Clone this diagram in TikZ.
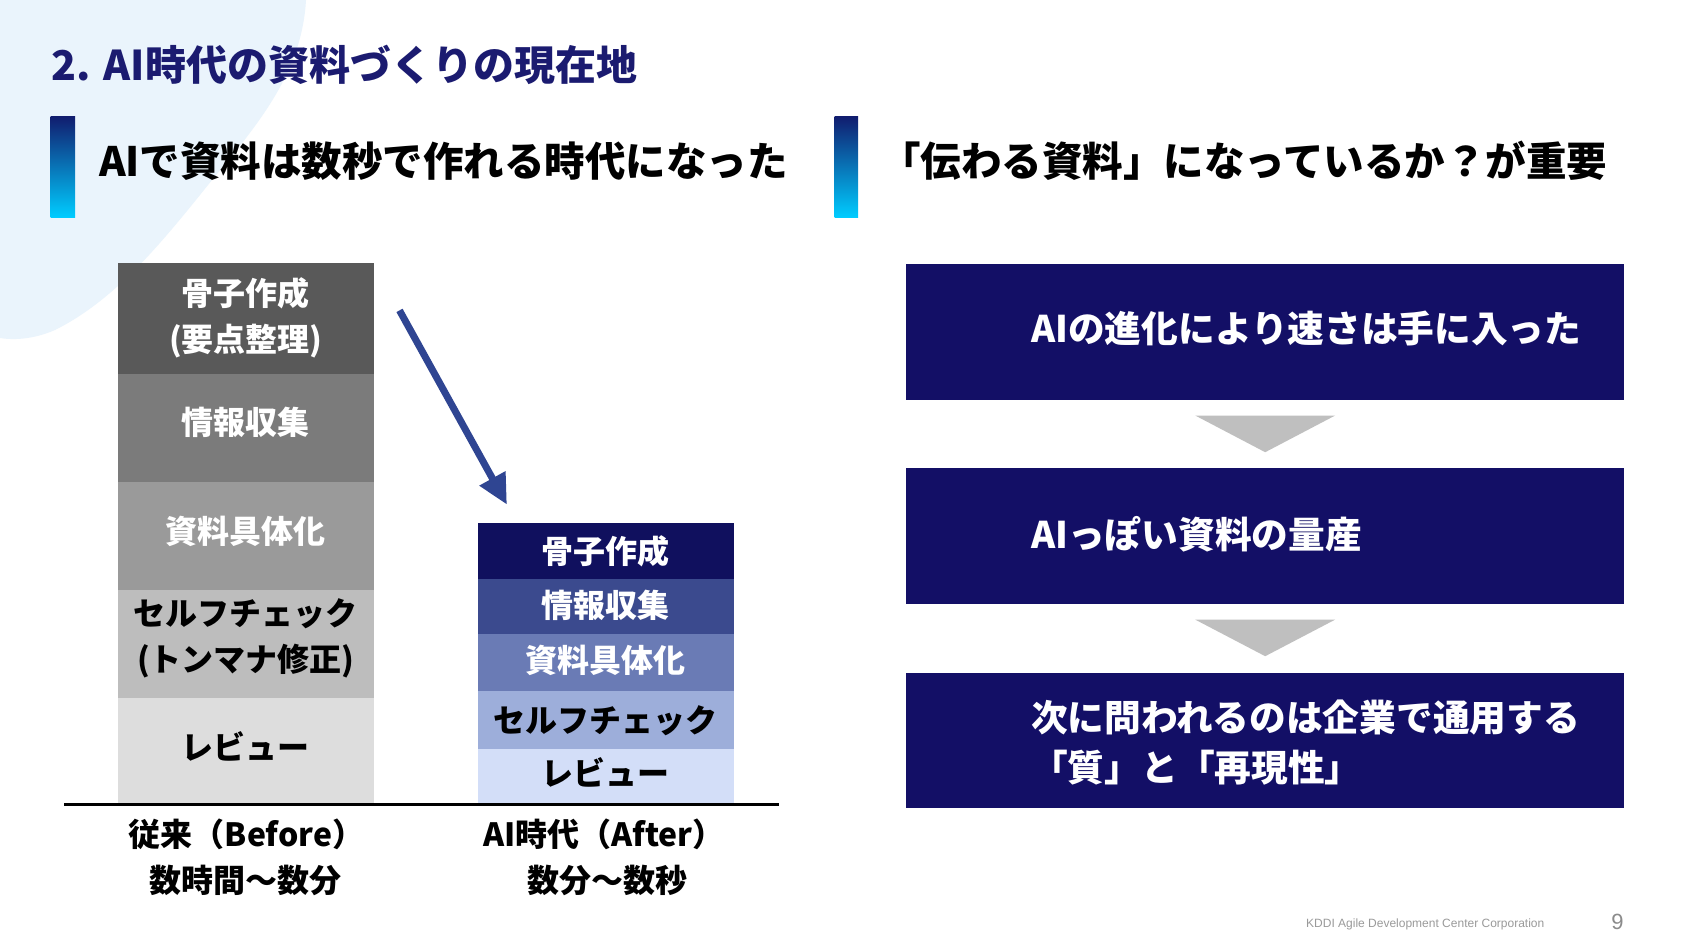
\documentclass[tikz,border=0pt]{standalone}
\usepackage{fontspec}
\setmainfont{Noto Sans CJK JP}
\newfontfamily\footfont{Liberation Sans}
\usetikzlibrary{arrows.meta}
\definecolor{blob}{HTML}{EAF4FC}
\definecolor{titlenavy}{HTML}{1B1B70}
\definecolor{bartop}{HTML}{111C6E}
\definecolor{barbot}{HTML}{00CCFF}
\definecolor{bA}{HTML}{595959}
\definecolor{bB}{HTML}{7B7B7B}
\definecolor{bC}{HTML}{9A9A9A}
\definecolor{bD}{HTML}{BDBDBD}
\definecolor{bE}{HTML}{DDDDDD}
\definecolor{aA}{HTML}{10105E}
\definecolor{aB}{HTML}{3B4A8E}
\definecolor{aC}{HTML}{6A7BB5}
\definecolor{aD}{HTML}{9DAEDA}
\definecolor{aE}{HTML}{D3DEF8}
\definecolor{navybox}{HTML}{130F66}
\definecolor{chev}{HTML}{BFBFBF}
\definecolor{arrowblue}{HTML}{2F4592}
\definecolor{footgray}{HTML}{9A9A9A}
\tikzset{
  seg/.style={anchor=north west, inner sep=0pt, outer sep=0pt, minimum width=255.6pt},
  seglabel/.style={inner sep=0pt, align=center, font=\fontsize{32}{46}\selectfont\bfseries},
  flowbox/.style={anchor=north west, inner sep=0pt, outer sep=0pt, fill=navybox,
    minimum width=717.5pt},
  flowtext/.style={anchor=west, inner sep=0pt, text=white, align=left,
    font=\fontsize{36.7}{50.5}\selectfont\bfseries},
  subtitle/.style={anchor=west, inner sep=0pt, font=\fontsize{40.5}{48}\selectfont\bfseries},
  gradbar/.style={top color=bartop, bottom color=barbot, draw=none},
  axislabel/.style={inner sep=0pt, font=\fontsize{32}{40}\selectfont\bfseries},
}
\begin{document}
\begin{tikzpicture}[x=1pt,y=-1pt]
\useasboundingbox (0,0) rectangle (1684,946);
\fill[white] (0,0) rectangle (1684,946);
% background blob
\fill[blob] (0,0) -- (306,0) .. controls (302,70) and (262,120) .. (212,180)
  .. controls (160,245) and (115,300) .. (55,330)
  .. controls (32,340) and (12,340) .. (0,338) -- cycle;
% title
\node[anchor=west, inner sep=0pt, text=titlenavy, font=\fontsize{41}{48}\selectfont\bfseries]
  (title) at (51.6,64.4) {2. AI時代の資料づくりの現在地};
% gradient bars
\shade[gradbar] (50.5,116) rectangle (75.2,217);
\shade[gradbar] (834.5,116) rectangle (858.1,217);
\node[subtitle] (subL) at (98.8,161.1) {AIで資料は数秒で作れる時代になった};
\node[subtitle] (subR) at (880,161.1) {「伝わる資料」になっているか？が重要};
% before column
\node[seg, fill=bA, minimum height=110.6pt] (b1) at (118.1,263.1) {};
\node[seg, fill=bB, minimum height=108.5pt] (b2) at (118.1,373.7) {};
\node[seg, fill=bC, minimum height=107.4pt] (b3) at (118.1,482.2) {};
\node[seg, fill=bD, minimum height=108.5pt] (b4) at (118.1,589.6) {};
\node[seg, fill=bE, minimum height=105.2pt] (b5) at (118.1,698.1) {};
\node[seglabel, text=white] (b1t) at ([yshift=1pt]b1.center) {骨子作成\\(要点整理)};
\node[seglabel, text=white] (b2t) at ([yshift=6pt]b2.center) {情報収集};
\node[seglabel, text=white] (b3t) at ([yshift=5pt]b3.center) {資料具体化};
\node[seglabel, text=black] (b4t) at ([yshift=6pt]b4.center) {セルフチェック\\(トンマナ修正)};
\node[seglabel, text=black] (b5t) at ([yshift=4pt]b5.center) {レビュー};
% after column
\node[seg, fill=aA, minimum height=55.9pt] (a1) at (477.9,523.0) {};
\node[seg, fill=aB, minimum height=54.7pt] (a2) at (477.9,578.9) {};
\node[seg, fill=aC, minimum height=57.0pt] (a3) at (477.9,633.6) {};
\node[seg, fill=aD, minimum height=58.0pt] (a4) at (477.9,690.6) {};
\node[seg, fill=aE, minimum height=54.7pt] (a5) at (477.9,748.6) {};
\node[seglabel, text=white] (a1t) at (a1.center) {骨子作成};
\node[seglabel, text=white] (a2t) at ([yshift=1pt]a2.center) {情報収集};
\node[seglabel, text=white] (a3t) at ([yshift=2pt]a3.center) {資料具体化};
\node[seglabel, text=black] (a4t) at ([yshift=-1pt]a4.center) {セルフチェック};
\node[seglabel, text=black] (a5t) at ([yshift=4pt]a5.center) {レビュー};
% baseline
\coordinate (axL) at (64.4,804.4);
\coordinate (axR) at (778.6,804.4);
\draw[line width=3pt, black] (axL) -- (axR);
% arrow
\coordinate (arS) at (399.5,310.4);
\coordinate (arE) at (506.9,504.6);
\draw[line width=7pt, arrowblue, -{Triangle[width=28pt,length=30pt]}] (arS) -- (arE);
% axis labels
\node[axislabel] (lb1) at (246.5,834.5) {従来（Before）};
\node[axislabel] (lb2) at (245.9,880.7) {数時間〜数分};
\node[axislabel] (la1) at (604,834.5) {AI時代（After）};
\node[axislabel] (la2) at (607.5,880.7) {数分〜数秒};
% right flow
\node[flowbox, minimum height=135.3pt] (f1) at (906.4,264.2) {};
\node[flowbox, minimum height=135.3pt] (f2) at (906.4,468.3) {};
\node[flowbox, minimum height=134.2pt] (f3) at (906.4,673.4) {};
\node[flowtext] (t1) at (1031,328.6) {AIの進化により速さは手に入った};
\node[flowtext] (t2) at (1031,533.8) {AIっぽい資料の量産};
\node[flowtext] (t3) at (1031,742.6) {次に問われるのは企業で通用する\\「質」と「再現性」};
\fill[chev] (1195.4,415.6) -- (1335,415.6) -- (1265.2,452.2) -- cycle;
\fill[chev] (1195.4,619.7) -- (1335,619.7) -- (1265.2,656.2) -- cycle;
% footer
\node[anchor=west, inner sep=0pt, text=footgray, font=\footfont\fontsize{12}{14}\selectfont] (foot) at (1306,924.7) {KDDI Agile Development Center Corporation};
\node[inner sep=0pt, text=footgray!90!black, font=\footfont\fontsize{22}{26}\selectfont] (pnum) at (1617.4,921.5) {9};
\end{tikzpicture}
\end{document}
